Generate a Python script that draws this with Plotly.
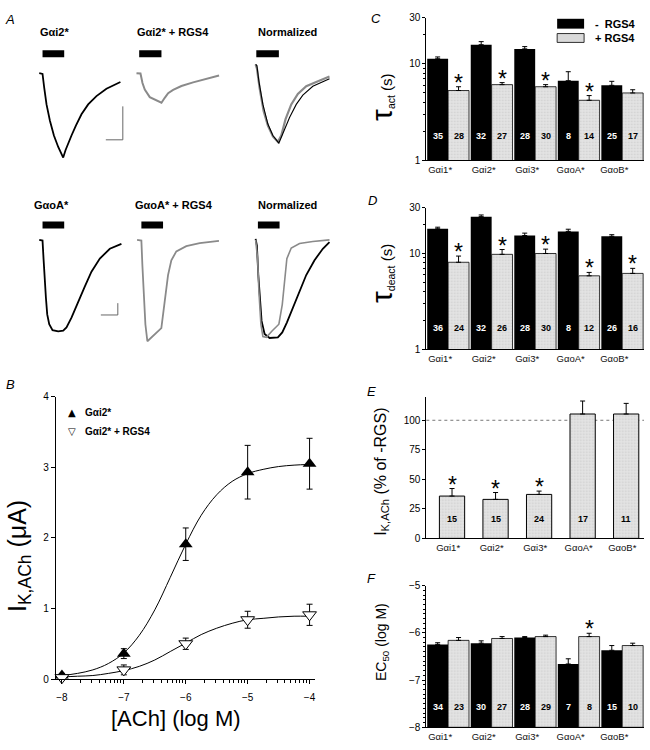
import numpy as np
import plotly.graph_objects as go

W, H = 650, 750
FONT = "Liberation Sans, Arial, sans-serif"
GRAY_LINE = "#8a8a8a"
GRAY_BAR = "#dadada"
GRAY_PATTERN = dict(shape=".", bgcolor="#e3e3e3", fgcolor="#b8b8b8", size=3, solidity=0.25)

# ---------------- Panel A: digitised current traces ----------------
# time (s, from start of trace), current (arbitrary units, inward = negative)
t_gi2 = [0, 3.3, 5, 7.3, 10.7, 14.7, 19, 22.3, 24, 26.3, 29, 32.3, 36.7, 42.3, 49, 57.3, 67.3, 81.3]
i_gi2 = [0, -0.7, -15, -31.7, -48.3, -63.3, -75, -82.3, -85.7, -78.3, -71, -63.3, -53.3, -41.7, -31.7, -23.3, -15.7, -9]
t_gi2_rgs = [0, 4, 6, 8.3, 13.3, 20, 25, 28.3, 31.7, 36.7, 45, 56.7, 70, 82.7]
i_gi2_rgs = [0, -0.3, -10, -16.7, -24.3, -27.7, -30, -25, -20.3, -17, -13, -9.3, -5.7, -2.3]
t_gi2_norm = [0, 1.3, 3.3, 7.3, 12.3, 17.3, 23.3, 27.3, 34, 40.7, 47.3, 57.3, 67.3, 74]
i_gi2_norm = [0, -1.3, -17.3, -40.7, -60.7, -72.3, -80, -70.7, -54, -40.7, -31.3, -22.3, -17.3, -14.7]
t_gi2_rgs_norm = [0, 1.3, 4, 8, 12.3, 17.3, 22.3, 25.7, 30, 35.7, 42.3, 50.7, 60.7, 74]
i_gi2_rgs_norm = [0, -4, -24, -47.3, -62.3, -73.3, -78.7, -72.3, -55.7, -40.7, -30, -22.3, -18, -12.3]

t_goa = [0, 3.3, 4.3, 5.3, 6.7, 8, 10, 13.3, 19, 24, 27.3, 32.3, 39, 45.7, 52.3, 60.7, 70.7, 82.3]
i_goa = [0, -0.7, -19, -39, -59, -75.7, -85.7, -91.7, -93, -92.3, -89, -79, -64, -47.3, -32.3, -19, -9, -4]
t_goa_rgs = [0, 4.3, 5.3, 6.7, 8.3, 10.3, 17, 24.3, 27.7, 31, 34.3, 39.3, 49.3, 62.7, 82]
i_goa_rgs = [0, -0.7, -25.7, -59, -85.7, -103, -96.3, -89.7, -62.3, -35.7, -20.7, -11.7, -6.3, -3.3, -1]
t_goa_norm = [0, 1.3, 2.7, 4.3, 6, 9, 14, 22.3, 26.7, 31.3, 37.3, 44, 50.7, 59, 67.3, 74]
i_goa_norm = [0, -6.7, -36.7, -63.3, -83.3, -96.7, -100.7, -100, -95, -85, -70, -51.7, -36.7, -21.7, -10, -3.3]
t_goa_rgs_norm = [0, 2, 3.3, 5.3, 7.3, 10.7, 16.7, 23.3, 26.7, 29, 31.3, 35.7, 44, 57.3, 74]
i_goa_rgs_norm = [-1, -20, -53.3, -86.7, -99.3, -100, -93.3, -86.7, -66.7, -40, -20, -9.3, -4.7, -2.7, -1]

ach_on = [3.3, 2.7, 0.7, 3.3, 4.3, 2.3]
ach_off = [25, 25, 23.3, 25, 26, 24]
scale_t = 17
scale_i_top = 34
scale_i_bottom = 12

trace_titles_top = ["Gαi2*", "Gαi2* + RGS4", "Normalized"]
trace_titles_bottom = ["GαoA*", "GαoA* + RGS4", "Normalized"]

# ---------------- Panel B: concentration-response ----------------
log_ach = [-8, -7, -6, -5, -4]
ik_gi2 = [0.05, 0.36, 1.91, 2.93, 3.05]
ik_gi2_err = [0.03, 0.07, 0.23, 0.38, 0.36]
ik_gi2_rgs = [0.02, 0.13, 0.50, 0.84, 0.91]
ik_gi2_rgs_err = [0.03, 0.07, 0.08, 0.12, 0.15]
log_fit = [-8, -7.75, -7.5, -7.25, -7, -6.75, -6.5, -6.25, -6, -5.75, -5.5, -5.25, -5, -4.75, -4.5, -4.25, -4]
fit_gi2 = [0.05, 0.08, 0.13, 0.22, 0.37, 0.62, 0.98, 1.44, 1.91, 2.32, 2.61, 2.80, 2.91, 2.97, 3.01, 3.03, 3.04]
fit_gi2_rgs = [0.03, 0.04, 0.05, 0.08, 0.12, 0.18, 0.27, 0.39, 0.51, 0.63, 0.72, 0.79, 0.84, 0.86, 0.88, 0.89, 0.89]

# ---------------- Panels C-F ----------------
subunits = ["Gαi1*", "Gαi2*", "Gαi3*", "GαoA*", "GαoB*"]

tau_act_minus = [11.3, 15.8, 14.3, 6.7, 6.0]
tau_act_minus_err = [0.5, 1.2, 0.8, 1.6, 0.6]
tau_act_plus = [5.3, 6.1, 5.8, 4.2, 5.0]
tau_act_plus_err = [0.5, 0.3, 0.3, 0.5, 0.4]
n_act_minus = [35, 32, 28, 8, 25]
n_act_plus = [28, 27, 30, 14, 17]
sig_act = [True, True, True, True, False]

tau_deact_minus = [18.1, 24.2, 15.4, 17.0, 15.1]
tau_deact_minus_err = [0.7, 1.0, 0.9, 0.9, 0.6]
tau_deact_plus = [8.1, 9.8, 10.0, 5.85, 6.2]
tau_deact_plus_err = [1.3, 1.2, 1.1, 0.5, 0.8]
n_deact_minus = [36, 32, 28, 8, 26]
n_deact_plus = [24, 26, 30, 12, 16]
sig_deact = [True, True, True, True, True]

ik_pct = [35.8, 33.0, 37.2, 105.3, 105.3]
ik_pct_err = [6.4, 5.8, 2.8, 11.0, 9.0]
n_pct = [15, 15, 24, 17, 11]
sig_pct = [True, True, True, False, False]

ec50_minus = [-6.245, -6.22, -6.10, -6.66, -6.37]
ec50_minus_err = [0.035, 0.05, 0.02, 0.11, 0.10]
ec50_plus = [-6.16, -6.12, -6.08, -6.08, -6.27]
ec50_plus_err = [0.06, 0.04, 0.03, 0.07, 0.05]
n_ec50_minus = [34, 30, 28, 7, 15]
n_ec50_plus = [23, 27, 29, 8, 10]
sig_ec50 = [False, False, False, True, False]


def xp(x):
    return x / W


def yp(y):
    return 1 - y / H


def axn(kind, n):
    return f"{kind}axis" if n == 1 else f"{kind}axis{n}"


def ref(kind, n):
    return kind if n == 1 else f"{kind}{n}"


fig = go.Figure()
layout = dict(
    width=W, height=H, margin=dict(l=0, r=0, t=0, b=0),
    paper_bgcolor="white", plot_bgcolor="white", showlegend=False,
    font=dict(family=FONT, size=10, color="black"),
    barmode="group", bargap=0.04, bargroupgap=0,
)
annotations = []
shapes = []

# ---------------- Panel A ----------------
A_panels = [
    (1, (39.3, 68.3), (30, 130, 55, 165)),
    (2, (136.7, 68.3), (130, 228, 55, 165)),
    (3, (256.0, 59.3), (245, 335, 55, 165)),
    (4, (39.3, 237.7), (30, 130, 225, 350)),
    (5, (137.3, 237.7), (130, 228, 225, 350)),
    (6, (256.0, 236.7), (245, 335, 225, 350)),
]
for n, (ox, oy), (bx0, bx1, by0, by1) in A_panels:
    layout[axn("x", n)] = dict(domain=[xp(bx0), xp(bx1)], range=[bx0 - ox, bx1 - ox],
                               visible=False, anchor=ref("y", n))
    layout[axn("y", n)] = dict(domain=[yp(by1), yp(by0)], range=[oy - by1, oy - by0],
                               visible=False, anchor=ref("x", n))

A_traces = [
    (1, t_gi2, i_gi2, "black", 1.8),
    (2, t_gi2_rgs, i_gi2_rgs, GRAY_LINE, 2.0),
    (3, t_gi2_rgs_norm, i_gi2_rgs_norm, GRAY_LINE, 2.2),
    (3, t_gi2_norm, i_gi2_norm, "black", 1.1),
    (4, t_goa, i_goa, "black", 1.8),
    (5, t_goa_rgs, i_goa_rgs, GRAY_LINE, 1.8),
    (6, t_goa_norm, i_goa_norm, "black", 1.8),
    (6, t_goa_rgs_norm, i_goa_rgs_norm, GRAY_LINE, 1.6),
]
for n, t, i, c, w in A_traces:
    fig.add_trace(go.Scatter(x=t, y=i, mode="lines", line=dict(color=c, width=w),
                             xaxis=ref("x", n), yaxis=ref("y", n), hoverinfo="skip"))

for k in range(6):
    n = k + 1
    ytop, ybot = (45, 52) if n <= 3 else (219, 226)
    shapes.append(dict(type="rect", xref=ref("x", n), yref="paper",
                       x0=ach_on[k], x1=ach_off[k], y0=yp(ybot), y1=yp(ytop),
                       fillcolor="black", line=dict(width=0)))

# scale bars
sb_col = "#666666"
shapes.append(dict(type="line", xref="x", yref="y", x0=83.7, x1=83.7, y0=-33.7, y1=-33.7 - scale_i_top,
                   line=dict(color=sb_col, width=1)))
shapes.append(dict(type="line", xref="x", yref="y", x0=83.7 - scale_t, x1=83.7,
                   y0=-33.7 - scale_i_top, y1=-33.7 - scale_i_top, line=dict(color=sb_col, width=1)))
shapes.append(dict(type="line", xref="x4", yref="y4", x0=78.7, x1=78.7, y0=-64.3, y1=-64.3 - scale_i_bottom,
                   line=dict(color=sb_col, width=1)))
shapes.append(dict(type="line", xref="x4", yref="y4", x0=78.7 - scale_t, x1=78.7,
                   y0=-64.3 - scale_i_bottom, y1=-64.3 - scale_i_bottom, line=dict(color=sb_col, width=1)))

for txt, xc in zip(trace_titles_top, [55, 173, 288]):
    annotations.append(dict(text=f"<b>{txt}</b>", x=xp(xc), y=yp(26), xref="paper", yref="paper",
                            showarrow=False, font=dict(size=11), xanchor="center", yanchor="middle"))
for txt, xc in zip(trace_titles_bottom, [52, 174, 288]):
    annotations.append(dict(text=f"<b>{txt}</b>", x=xp(xc), y=yp(202), xref="paper", yref="paper",
                            showarrow=False, font=dict(size=11), xanchor="center", yanchor="middle"))

# ---------------- Panel B ----------------
axis_common = dict(showline=True, linecolor="black", linewidth=1, showgrid=False, zeroline=False,
                   tickcolor="black", tickfont=dict(size=10, color="black"))
minor_x = [d + np.log10(k) for d in range(-8, -4) for k in range(2, 10)]
layout[axn("x", 7)] = dict(axis_common, domain=[xp(56), xp(315)], range=[-8.097, -3.92], anchor="y7",
                           tickvals=log_ach, ticks="outside", ticklen=4, ticklabelstandoff=5,
                           minor=dict(tickvals=minor_x, ticks="outside", ticklen=2.5, tickcolor="black"))
layout[axn("y", 7)] = dict(axis_common, domain=[yp(684), yp(397)], range=[0, 4], anchor="x7",
                           tickvals=[0, 1, 2, 3, 4], ticks="outside", ticklen=4)

fig.add_trace(go.Scatter(x=log_fit, y=fit_gi2, mode="lines", line=dict(color="black", width=1, shape="spline"),
                         xaxis="x7", yaxis="y7", hoverinfo="skip"))
fig.add_trace(go.Scatter(x=log_fit, y=fit_gi2_rgs, mode="lines", line=dict(color="black", width=1, shape="spline"),
                         xaxis="x7", yaxis="y7", hoverinfo="skip"))
fig.add_trace(go.Scatter(x=log_ach, y=ik_gi2, mode="markers", xaxis="x7", yaxis="y7", cliponaxis=False,
                         marker=dict(symbol="triangle-up", size=12, color="black"),
                         error_y=dict(type="data", array=ik_gi2_err, color="black", thickness=1, width=3)))
fig.add_trace(go.Scatter(x=log_ach, y=ik_gi2_rgs, mode="markers", xaxis="x7", yaxis="y7", cliponaxis=False,
                         marker=dict(symbol="triangle-down", size=12, color="white",
                                     line=dict(color="black", width=1)),
                         error_y=dict(type="data", array=ik_gi2_rgs_err, color="black", thickness=1, width=3)))

annotations += [
    dict(text="▲", x=xp(72), y=yp(413), xref="paper", yref="paper", showarrow=False,
         font=dict(size=10, family="DejaVu Sans"), xanchor="center", yanchor="middle"),
    dict(text="<b>Gαi2*</b>", x=xp(83), y=yp(413), xref="paper", yref="paper", showarrow=False,
         font=dict(size=10), xanchor="left", yanchor="middle"),
    dict(text="▽", x=xp(72), y=yp(432), xref="paper", yref="paper", showarrow=False,
         font=dict(size=10, family="DejaVu Sans"), xanchor="center", yanchor="middle"),
    dict(text="<b>Gαi2* + RGS4</b>", x=xp(83), y=yp(432), xref="paper", yref="paper", showarrow=False,
         font=dict(size=10), xanchor="left", yanchor="middle"),
    dict(text="I<sub>K,ACh</sub> (μA)", x=xp(19), y=yp(559), xref="paper", yref="paper", showarrow=False,
         textangle=-90, font=dict(size=25), xanchor="center", yanchor="middle"),
    dict(text="[ACh] (log M)", x=xp(176), y=yp(724), xref="paper", yref="paper", showarrow=False,
         font=dict(size=22), xanchor="center", yanchor="middle"),
]

# ---------------- Panels C-F ----------------
bar_x = [0, 1, 2, 3, 4]
OFF = 0.24


def bar_xaxis(n, yn, shift=-8):
    return dict(axis_common, domain=[xp(427), xp(645)], range=[-0.5, 4.5], anchor=yn,
                tickvals=bar_x, ticktext=subunits, ticks="", ticklen=0, tickfont=dict(size=9.5, color="#111"),
                ticklabelshift=shift, ticklabelstandoff=0)


def add_pair(n, minus, minus_err, plus, plus_err, base=None):
    kw = dict(xaxis=ref("x", n), yaxis=ref("y", n), hoverinfo="skip")
    y_m = minus if base is None else [v - base for v in minus]
    y_p = plus if base is None else [v - base for v in plus]
    fig.add_trace(go.Bar(x=bar_x, y=y_m, base=base, marker=dict(color="black", line=dict(width=0)),
                         error_y=dict(type="data", symmetric=False, array=minus_err, arrayminus=[0] * 5,
                                      color="black", thickness=1, width=2.5), **kw))
    fig.add_trace(go.Bar(x=bar_x, y=y_p, base=base,
                         marker=dict(color=GRAY_BAR, pattern=GRAY_PATTERN, line=dict(color="black", width=0.8)),
                         error_y=dict(type="data", symmetric=False, array=plus_err, arrayminus=[0] * 5,
                                      color="black", thickness=1, width=2.5), **kw))


def add_n_labels(n, xs, ns, color, ydom):
    for x, v in zip(xs, ns):
        annotations.append(dict(text=f"<b>{v}</b>", x=x, y=ydom, xref=ref("x", n), yref=f"{ref('y', n)} domain",
                                showarrow=False, font=dict(size=9, color=color), xanchor="center",
                                yanchor="middle"))


def add_stars(n, xs, tops, sig, log=False):
    for x, t, s in zip(xs, tops, sig):
        if s:
            annotations.append(dict(text="*", x=x, y=np.log10(t) if log else t, xref=ref("x", n),
                                    yref=ref("y", n), showarrow=False, font=dict(size=23),
                                    xanchor="center", yanchor="middle", yshift=4))


# C
layout[axn("x", 8)] = bar_xaxis(8, "y8")
layout[axn("y", 8)] = dict(axis_common, type="log", domain=[yp(157), yp(12)], range=[0, np.log10(30)],
                           anchor="x8", tickvals=[1, 10, 30], ticktext=["1", "10", "30"],
                           ticks="outside", ticklen=3,
                           minor=dict(tickvals=[2, 3, 4, 5, 6, 7, 8, 9, 20], ticks="outside", ticklen=2,
                                      tickcolor="black"))
add_pair(8, tau_act_minus, tau_act_minus_err, tau_act_plus, tau_act_plus_err)
add_n_labels(8, [x - OFF for x in bar_x], n_act_minus, "white", 0.17)
add_n_labels(8, [x + OFF for x in bar_x], n_act_plus, "black", 0.17)
add_stars(8, [x + OFF for x in bar_x], [v + e for v, e in zip(tau_act_plus, tau_act_plus_err)], sig_act, log=True)

# D
layout[axn("x", 9)] = bar_xaxis(9, "y9")
layout[axn("y", 9)] = dict(axis_common, type="log", domain=[yp(349), yp(205)], range=[0, np.log10(30)],
                           anchor="x9", tickvals=[1, 10, 30], ticktext=["1", "10", "30"],
                           ticks="outside", ticklen=3,
                           minor=dict(tickvals=[2, 3, 4, 5, 6, 7, 8, 9, 20], ticks="outside", ticklen=2,
                                      tickcolor="black"))
add_pair(9, tau_deact_minus, tau_deact_minus_err, tau_deact_plus, tau_deact_plus_err)
add_n_labels(9, [x - OFF for x in bar_x], n_deact_minus, "white", 0.15)
add_n_labels(9, [x + OFF for x in bar_x], n_deact_plus, "black", 0.15)
add_stars(9, [x + OFF for x in bar_x], [v + e for v, e in zip(tau_deact_plus, tau_deact_plus_err)], sig_deact,
          log=True)

# E
layout[axn("x", 10)] = bar_xaxis(10, "y10", shift=0)
layout[axn("y", 10)] = dict(axis_common, domain=[yp(541), yp(397)], range=[0, 120], anchor="x10",
                            tickvals=[0, 25, 50, 75, 100], ticks="outside", ticklen=3)
fig.add_trace(go.Bar(x=bar_x, y=ik_pct, width=0.58, offset=-0.2, xaxis="x10", yaxis="y10", hoverinfo="skip",
                     marker=dict(color=GRAY_BAR, pattern=GRAY_PATTERN, line=dict(color="black", width=1)),
                     error_y=dict(type="data", symmetric=False, array=ik_pct_err, arrayminus=[0] * 5,
                                  color="black", thickness=1, width=2.5)))
shapes.append(dict(type="line", xref="x10 domain", yref="y10", x0=0, x1=1, y0=100, y1=100,
                   line=dict(color="#777777", width=1, dash="dot"), layer="below"))
add_n_labels(10, [x + 0.09 for x in bar_x], n_pct, "black", 0.14)
add_stars(10, [x + 0.09 for x in bar_x], [v + e for v, e in zip(ik_pct, ik_pct_err)], sig_pct)

# F
layout[axn("x", 11)] = bar_xaxis(11, "y11")
layout[axn("y", 11)] = dict(axis_common, domain=[yp(733), yp(589)], range=[-8, -5], anchor="x11",
                            tickvals=[-8, -7, -6, -5], ticks="outside", ticklen=3,
                            minor=dict(dtick=0.1, ticks="outside", ticklen=2, tickcolor="black"))
add_pair(11, ec50_minus, ec50_minus_err, ec50_plus, ec50_plus_err, base=-8)
add_n_labels(11, [x - OFF for x in bar_x], n_ec50_minus, "white", 0.14)
add_n_labels(11, [x + OFF for x in bar_x], n_ec50_plus, "black", 0.14)
add_stars(11, [x + OFF for x in bar_x], [v + e for v, e in zip(ec50_plus, ec50_plus_err)], sig_ec50)

# C legend
shapes.append(dict(type="rect", xref="paper", yref="paper", x0=xp(558), x1=xp(585), y0=yp(23), y1=yp(13),
                   fillcolor="black", line=dict(width=0)))
shapes.append(dict(type="rect", xref="paper", yref="paper", x0=xp(558), x1=xp(585), y0=yp(37), y1=yp(28),
                   fillcolor=GRAY_BAR, line=dict(color="black", width=0.8)))
annotations += [
    dict(text="<b>-  RGS4</b>", x=xp(594), y=yp(18), xref="paper", yref="paper", showarrow=False,
         font=dict(size=11), xanchor="left", yanchor="middle"),
    dict(text="<b>+ RGS4</b>", x=xp(594), y=yp(33), xref="paper", yref="paper", showarrow=False,
         font=dict(size=11), xanchor="left", yanchor="middle"),
]

# y titles C-F
annotations += [
    dict(text="<span style='font-size:30px'>τ</span><sub>act</sub> (s)", x=xp(382), y=yp(92),
         xref="paper", yref="paper", showarrow=False, textangle=-90, font=dict(size=15),
         xanchor="center", yanchor="middle"),
    dict(text="<span style='font-size:30px'>τ</span><sub>deact</sub> (s)", x=xp(382), y=yp(272),
         xref="paper", yref="paper", showarrow=False, textangle=-90, font=dict(size=15),
         xanchor="center", yanchor="middle"),
    dict(text="I<sub>K,ACh</sub> (% of -RGS)", x=xp(382), y=yp(473), xref="paper", yref="paper",
         showarrow=False, textangle=-90, font=dict(size=16), xanchor="center", yanchor="middle"),
    dict(text="EC<sub>50</sub> (log M)", x=xp(382), y=yp(646), xref="paper", yref="paper",
         showarrow=False, textangle=-90, font=dict(size=14), xanchor="center", yanchor="middle"),
]

# panel letters
for letter, (lx, ly) in zip("ABCDEF", [(10, 14), (11, 385), (377, 13), (373, 198), (372, 392), (372, 582)]):
    annotations.append(dict(text=f"<i>{letter}</i>", x=xp(lx), y=yp(ly), xref="paper", yref="paper",
                            showarrow=False, font=dict(size=13), xanchor="center", yanchor="middle"))

layout["annotations"] = annotations
layout["shapes"] = shapes
fig.update_layout(**layout)
fig.write_html("out.html", config={"displayModeBar": False},
               post_script="document.body.style.margin='0px';document.body.style.overflow='hidden';")
